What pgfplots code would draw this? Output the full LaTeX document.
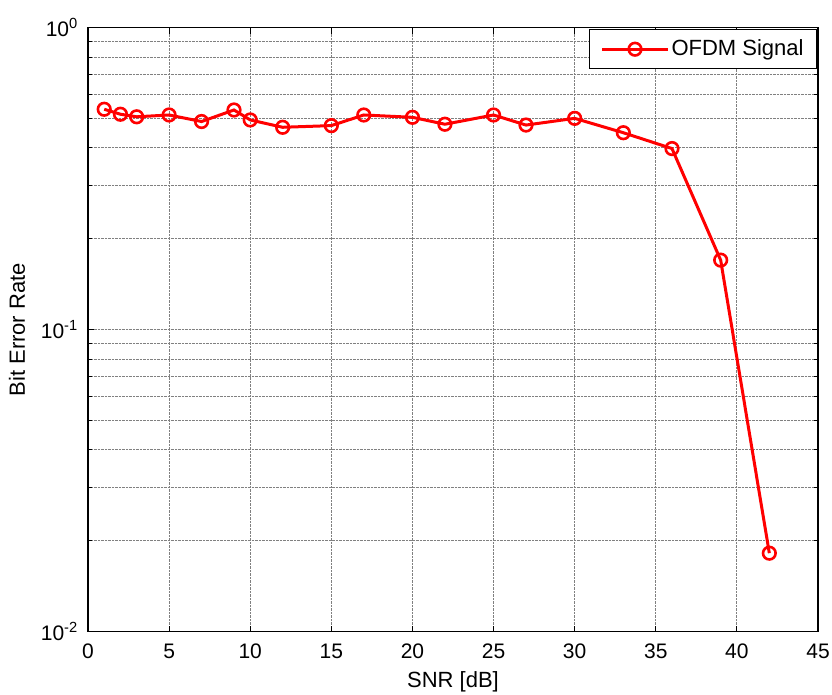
\documentclass[border=0pt]{standalone}
\usepackage{fontspec}
\setmainfont{Liberation Sans}
\usepackage{pgfplots}
\pgfplotsset{compat=1.18}
\begin{document}
\fontsize{21}{25}\selectfont
\begin{tikzpicture}
\begin{semilogyaxis}[
  name=ax,
  width=730pt, height=604pt, scale only axis,
  xmin=0, xmax=45, ymin=0.01, ymax=1,
  xtick={0,5,...,45},
  ytick={0.01,0.1,1},
  yticklabels={10\textsuperscript{-2},10\textsuperscript{-1},10\textsuperscript{0}},
  /pgf/number format/assume math mode=true,
  ticklabel style={font=\fontsize{21}{25}\selectfont},
  xticklabel style={yshift=-5pt},
  yticklabel style={xshift=-3pt},
  label style={font=\fontsize{22}{26}\selectfont},
  xlabel={SNR [dB]},
  ylabel={Bit Error Rate},
  xlabel style={at={(0.5,0)}, anchor=center, yshift=-50pt},
  ylabel style={at={(0,0.5)}, anchor=center, yshift=71pt},
  grid=both,
  major grid style={black!50, densely dotted, line width=0.8pt},
  minor grid style={black!50, densely dotted, line width=0.8pt},
  tick align=inside,
  major tick length=6pt, minor tick length=4pt,
  every tick/.style={black, line width=0.9pt},
  axis line style={black, line width=1.1pt},
  legend style={at={(1,1)}, anchor=north east, xshift=-1pt, yshift=-1.5pt,
    draw=black, line width=0.9pt, font=\fontsize{22}{26}\selectfont,
    inner xsep=11pt, inner ysep=8pt},
  legend cell align=left,
  legend image code/.code={\draw[#1, mark repeat=2, mark phase=2] plot coordinates {(0pt,0pt) (33pt,0pt) (66pt,0pt)};},
]
\addplot[red, line width=3pt, mark=o, mark size=6.3pt, mark options={line width=2.6pt, solid}]
coordinates {
(1,0.537) (2,0.517) (3,0.507) (5,0.514) (7,0.489) (9,0.534) (10,0.495)
(12,0.468) (15,0.474) (17,0.514) (20,0.505) (22,0.479) (25,0.514)
(27,0.476) (30,0.501) (33,0.449) (36,0.398) (39,0.170) (42,0.0182)
};
\addlegendentry{OFDM Signal}
\end{semilogyaxis}
\pgfresetboundingbox
\path ([xshift=-88pt,yshift=-63.3pt]ax.south west) rectangle ([xshift=14pt,yshift=27.7pt]ax.north east);
\end{tikzpicture}
\end{document}
